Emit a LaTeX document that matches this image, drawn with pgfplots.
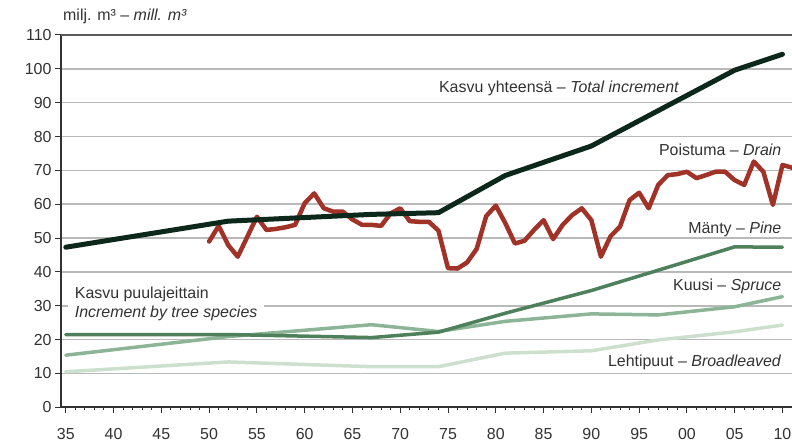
\documentclass[border=0pt]{standalone}
\usepackage{fontspec}
\setmainfont{Liberation Sans}
\usepackage{pgfplots}
\pgfplotsset{compat=1.18}
\usetikzlibrary{calc}

\definecolor{totalc}{RGB}{12,40,26}
\definecolor{drainc}{RGB}{160,50,40}
\definecolor{pinec}{RGB}{78,128,92}
\definecolor{sprucec}{RGB}{140,180,150}
\definecolor{broadc}{RGB}{205,224,205}
\definecolor{gridc}{RGB}{185,185,185}
\definecolor{axisc}{RGB}{50,50,50}

% Kasvu yhteensä / Total increment
\pgfplotstableread{
year val
1935 47.3
1952 55.0
1967 57.0
1974 57.5
1981 68.5
1990 77.2
2005 99.6
2010 104.3
}\totaldata

% Poistuma / Drain
\pgfplotstableread{
year val
1950 49.0
1951 53.6
1952 47.9
1953 44.5
1954 50.4
1955 56.3
1956 52.4
1957 52.7
1958 53.2
1959 53.9
1960 60.3
1961 63.2
1962 58.8
1963 57.8
1964 57.8
1965 55.5
1966 53.9
1967 53.9
1968 53.6
1969 57.3
1970 58.8
1971 55.0
1972 54.8
1973 54.8
1974 52.2
1975 41.1
1976 41.0
1977 42.8
1978 46.8
1979 56.5
1980 59.6
1981 54.4
1982 48.4
1983 49.2
1984 52.4
1985 55.3
1986 49.7
1987 53.9
1988 56.8
1989 58.8
1990 55.3
1991 44.5
1992 50.5
1993 53.4
1994 61.2
1995 63.4
1996 58.8
1997 65.7
1998 68.6
1999 68.9
2000 69.6
2001 67.7
2002 68.6
2003 69.6
2004 69.6
2005 67.1
2006 65.7
2007 72.6
2008 69.6
2009 59.8
2010 71.6
2011 70.8
}\draindata

% Puulajeittain / by tree species
\pgfplotstableread{
year pine spruce broad
1935 21.5 15.4 10.5
1952 21.5 20.9 13.4
1967 20.6 24.4 12.0
1974 22.2 22.4 12.0
1981 27.8 25.4 16.0
1990 34.5 27.6 16.7
1997 40.5 27.3 19.9
2005 47.4 29.7 22.3
2010 47.3 32.7 24.3
}\speciesdata

\begin{document}
\begin{tikzpicture}
\begin{axis}[
    name=ax, at={(0,0)}, anchor=south west,
    scale only axis, width=731bp, height=372.3bp,
    xmin=1934.5, xmax=2011, ymin=0, ymax=110,
    axis x line*=bottom, axis y line*=left,
    axis line style={line width=2bp, color=axisc, -},
    xtick={1935,1940,...,2010},
    xticklabels={35,40,45,50,55,60,65,70,75,80,85,90,95,00,05,10},
    minor x tick num=4,
    ytick={0,10,...,100},
    extra y ticks={110},
    extra tick style={grid style={line width=2bp, color=axisc!80}},
    ymajorgrids,
    grid style={line width=1.5bp, color=gridc},
    tick align=outside,
    tick style={line width=1bp, color=axisc},
    major tick length=6bp, minor tick length=3bp,
    ticklabel style={font=\fontsize{16}{19}\selectfont, text=axisc},
    xticklabel style={yshift=-12bp},
    /pgf/number format/assume math mode=true,
    clip=true,
    every axis plot/.append style={line join=round, line cap=round},
]
\addplot[sprucec, line width=3.5bp] table[x=year, y=spruce] {\speciesdata};
\addplot[broadc, line width=3.5bp] table[x=year, y=broad] {\speciesdata};
\addplot[pinec, line width=3.5bp] table[x=year, y=pine] {\speciesdata};
\addplot[drainc, line width=4.5bp] table[x=year, y=val] {\draindata};
\addplot[totalc, line width=5bp] table[x=year, y=val] {\totaldata};

\begin{scope}[every node/.style={font=\fontsize{16}{19}\selectfont, text=axisc}]
\node[anchor=west] at (axis cs:1973.7,94.2) {Kasvu yhteensä – \textit{Total increment}};
\node[anchor=east, inner xsep=0pt] at (axis cs:2009.9,76.0) {Poistuma – \textit{Drain}};
\node[anchor=east, inner xsep=0pt] at (axis cs:2009.9,52.7) {Mänty – \textit{Pine}};
\node[anchor=east, inner xsep=0pt] at (axis cs:2009.9,35.8) {Kuusi – \textit{Spruce}};
\node[anchor=east, inner xsep=0pt] at (axis cs:2009.9,13.2) {Lehtipuut – \textit{Broadleaved}};
\node[anchor=west, fill=white, inner xsep=7bp, align=left] at (axis cs:1935.2,30.5)
  {Kasvu puulajeittain\\ \textit{Increment by tree species}};
\end{scope}
\end{axis}
\node[anchor=west, font=\fontsize{16}{19}\selectfont, text=axisc, inner xsep=0pt]
  at ($(ax.north west)+(2bp,18.5bp)$) {milj. m³ – \textit{mill. m³}};
\pgfresetboundingbox
\path[use as bounding box] ($(ax.south west)+(-61bp,-35.7bp)$) rectangle ($(ax.north east)+(0,35bp)$);
\end{tikzpicture}
\end{document}
